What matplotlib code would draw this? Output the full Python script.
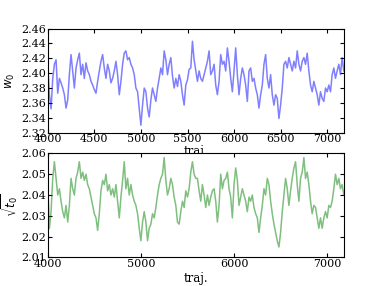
import numpy as np
import matplotlib
matplotlib.use("Agg")
from matplotlib import pyplot as plt

# values, roughly every 18 traj steps
w0 = [
    2.411, 2.371, 2.352, 2.393, 2.412, 2.418, 2.373, 2.393, 2.387, 2.380,
    2.371, 2.353, 2.364, 2.398, 2.425, 2.403, 2.380, 2.407, 2.418, 2.427,
    2.398, 2.412, 2.393, 2.414, 2.403, 2.398, 2.389, 2.384, 2.378, 2.373,
    2.389, 2.403, 2.416, 2.425, 2.407, 2.393, 2.412, 2.403, 2.387, 2.393,
    2.403, 2.416, 2.398, 2.371, 2.389, 2.412, 2.427, 2.430, 2.418, 2.421,
    2.412, 2.407, 2.398, 2.380, 2.375, 2.353, 2.330, 2.357, 2.380, 2.375,
    2.353, 2.341, 2.364, 2.380, 2.371, 2.362, 2.380, 2.393, 2.407, 2.398,
    2.430, 2.418, 2.398, 2.412, 2.421, 2.396, 2.380, 2.393, 2.382, 2.398,
    2.389, 2.371, 2.357, 2.384, 2.391, 2.405, 2.407, 2.443, 2.418, 2.403,
    2.389, 2.403, 2.393, 2.389, 2.398, 2.407, 2.416, 2.430, 2.398, 2.403,
    2.412, 2.384, 2.371, 2.389, 2.425, 2.412, 2.416, 2.403, 2.434, 2.416,
    2.393, 2.375, 2.403, 2.434, 2.398, 2.371, 2.393, 2.407, 2.398, 2.384,
    2.362, 2.403, 2.407, 2.389, 2.393, 2.380, 2.371, 2.353, 2.371, 2.384,
    2.412, 2.425, 2.393, 2.380, 2.398, 2.371, 2.357, 2.371, 2.366, 2.339,
    2.357, 2.380, 2.412, 2.416, 2.407, 2.421, 2.412, 2.403, 2.416, 2.407,
    2.430, 2.412, 2.403, 2.416, 2.421, 2.412, 2.427, 2.403, 2.384, 2.375,
    2.389, 2.380, 2.371, 2.357, 2.375, 2.366, 2.362, 2.380, 2.375, 2.384,
    2.375, 2.398, 2.407, 2.393, 2.403, 2.412, 2.398, 2.421, 2.403,
]

sqrt_t0 = [
    2.045, 2.024, 2.032, 2.048, 2.056, 2.048, 2.040, 2.043, 2.037, 2.032,
    2.029, 2.035, 2.027, 2.035, 2.048, 2.043, 2.040, 2.048, 2.051, 2.056,
    2.048, 2.051, 2.047, 2.050, 2.045, 2.043, 2.039, 2.035, 2.031, 2.029,
    2.023, 2.031, 2.042, 2.047, 2.045, 2.050, 2.042, 2.045, 2.040, 2.043,
    2.039, 2.045, 2.037, 2.029, 2.039, 2.047, 2.056, 2.043, 2.048, 2.040,
    2.045, 2.040, 2.037, 2.035, 2.031, 2.024, 2.018, 2.027, 2.032, 2.027,
    2.018, 2.024, 2.026, 2.031, 2.029, 2.034, 2.040, 2.045, 2.048, 2.050,
    2.058, 2.047, 2.040, 2.043, 2.048, 2.045, 2.039, 2.035, 2.027, 2.026,
    2.032, 2.037, 2.034, 2.042, 2.039, 2.043, 2.051, 2.056, 2.050, 2.048,
    2.048, 2.042, 2.037, 2.045, 2.040, 2.034, 2.040, 2.035, 2.039, 2.042,
    2.043, 2.037, 2.027, 2.035, 2.050, 2.043, 2.047, 2.048, 2.051, 2.043,
    2.039, 2.029, 2.045, 2.053, 2.047, 2.035, 2.039, 2.043, 2.040, 2.037,
    2.032, 2.039, 2.037, 2.040, 2.034, 2.031, 2.029, 2.022, 2.029, 2.035,
    2.043, 2.040, 2.048, 2.045, 2.037, 2.031, 2.026, 2.022, 2.018, 2.015,
    2.022, 2.032, 2.040, 2.048, 2.043, 2.035, 2.042, 2.048, 2.053, 2.056,
    2.045, 2.037, 2.048, 2.051, 2.058, 2.048, 2.051, 2.045, 2.037, 2.031,
    2.035, 2.034, 2.029, 2.024, 2.029, 2.024, 2.029, 2.032, 2.029, 2.035,
    2.034, 2.037, 2.043, 2.050, 2.045, 2.048, 2.043, 2.045, 2.040,
]

traj_start, traj_end = 4000, 7175
traj = np.linspace(traj_start, traj_end, len(w0))

plt.rcParams["font.family"] = "DejaVu Serif"
plt.rcParams["font.size"] = 8
plt.rcParams["axes.labelsize"] = 8.5
plt.rcParams["xtick.direction"] = "in"
plt.rcParams["ytick.direction"] = "in"
plt.rcParams["xtick.top"] = True
plt.rcParams["ytick.right"] = True
plt.rcParams["xtick.major.size"] = 3
plt.rcParams["ytick.major.size"] = 3

fig, ax = plt.subplots(2, 1, figsize=(3.82, 2.86), dpi=100)
fig.subplots_adjust(left=0.125, right=0.9, top=0.9, bottom=0.1, hspace=0.2)

ax[0].plot(traj, w0, color="b", alpha=0.5, lw=1.1)
ax[0].set_xlim(traj_start, traj_end)
ax[0].set_ylim(2.32, 2.46)
ax[0].set_xticks(np.arange(4000, 7001, 500))
ax[0].set_yticks(np.arange(2.32, 2.461, 0.02))
ax[0].set_ylabel(r"$w_0$", labelpad=3)
ax[0].set_xlabel("traj.", labelpad=1)

ax[1].plot(traj, sqrt_t0, color="g", alpha=0.5, lw=1.1)
ax[1].set_xlim(traj_start, traj_end)
ax[1].set_ylim(2.01, 2.06)
ax[1].set_xticks(np.arange(4000, 7001, 1000))
ax[1].set_yticks(np.arange(2.01, 2.061, 0.01))
ax[1].set_ylabel(r"$\sqrt{t_0}$", labelpad=1)
ax[1].set_xlabel("traj.", labelpad=2)

for a in ax:
    a.tick_params(pad=1)
    a.yaxis.set_major_formatter(matplotlib.ticker.FormatStrFormatter("%.2f"))

# bottom axes sits over the top axes' x label, as in the original
ax[1].set_zorder(2)
ax[1].patch.set_facecolor("white")

fig.savefig("out.png")
